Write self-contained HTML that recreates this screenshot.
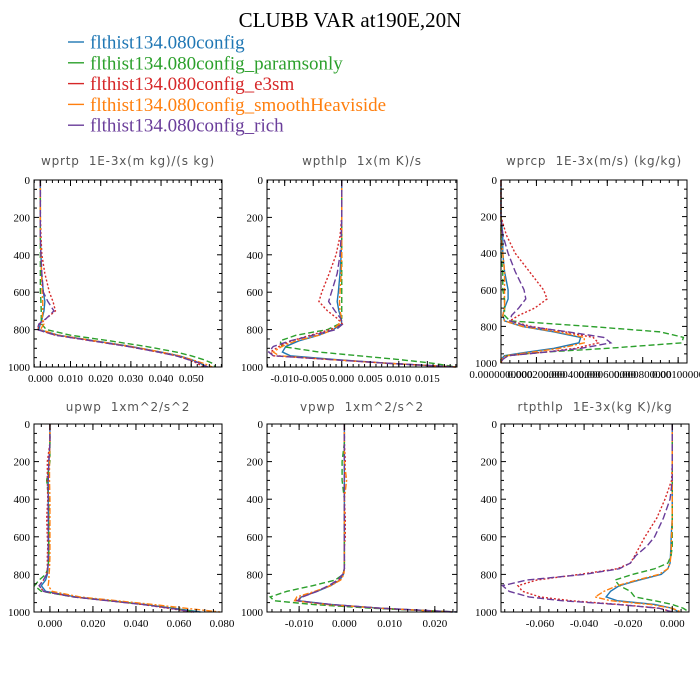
<!DOCTYPE html>
<html><head><meta charset="utf-8"><style>
html,body{margin:0;padding:0;background:#fff;}
svg{display:block;}
.tl{font-family:"Liberation Serif",serif;font-size:11px;fill:#000;}
.pt{font-family:"DejaVu Sans","Liberation Sans",sans-serif;font-size:12px;fill:#555;letter-spacing:0.8px;white-space:pre;}
</style></head><body>
<svg id="chart" width="700" height="700" viewBox="0 0 700 700" xmlns="http://www.w3.org/2000/svg">
<text x="350" y="27" text-anchor="middle" font-family="Liberation Serif,serif" font-size="21">CLUBB VAR at190E,20N</text>
<g id="legend"></g>
<g id="panels"></g>
</svg>
<script>
const levels=[0,100,200,300,400,500,600,650,700,740,770,800,830,860,890,920,940,960,980,1000];
const seriesNames=["flthist134.080config","flthist134.080config_paramsonly","flthist134.080config_e3sm","flthist134.080config_smoothHeaviside","flthist134.080config_rich"];
const wprtpBlue=[0,0,0,0,0.0002,0.0004,0.001,0.0015,0.0012,0.0006,0.0,-0.0005,0.006,0.018,0.030,0.040,0.046,0.050,0.053,0.055];
const wprtpGreen=[0,0,0,0,0,0,0,0.0002,0.0003,0.0003,0.0004,0.002,0.010,0.023,0.035,0.045,0.050,0.054,0.057,0.058];
const wprtpRed=[0,0,0,0.0002,0.0005,0.0015,0.003,0.0042,0.005,0.002,0.0,-0.001,0.005,0.017,0.029,0.039,0.045,0.049,0.052,0.054];
const wprtpOrange=[0,0,0,0,0.0002,0.0004,0.0006,0.0008,0.0008,0.0006,0.0012,0.0,0.006,0.018,0.030,0.040,0.046,0.050,0.054,0.057];
const wprtpPurple=[0,0,0,0,0.0002,0.0005,0.001,0.0025,0.0045,0.002,-0.0005,-0.001,0.005,0.017,0.029,0.039,0.045,0.049,0.053,0.0555];
const wpthlpBlue=[0,0,0,0,-0.0001,-0.0003,-0.0006,-0.0008,-0.0005,-0.0001,0,-0.0015,-0.004,-0.0075,-0.0098,-0.0104,-0.009,-0.001,0.008,0.020];
const wpthlpGreen=[0,0,0,0,0,0,0,0,0,0,-0.0005,-0.0025,-0.008,-0.0108,-0.0105,-0.004,0.003,0.010,0.016,0.020];
const wpthlpRed=[0,0,0,-0.0003,-0.001,-0.0022,-0.0035,-0.004,-0.0025,-0.0008,0.0001,-0.002,-0.0055,-0.0088,-0.011,-0.0125,-0.012,-0.002,0.008,0.020];
const wpthlpOrange=[0,0,0,0,0,-0.0001,-0.0003,-0.0004,-0.0003,0,-0.0005,-0.0015,-0.004,-0.008,-0.0105,-0.012,-0.011,-0.002,0.008,0.020];
const wpthlpPurple=[0,0,0,-0.0001,-0.0003,-0.0008,-0.0018,-0.0023,-0.0012,-0.0002,0.0002,-0.001,-0.005,-0.009,-0.012,-0.0128,-0.012,-0.002,0.008,0.020];
const wprcpBlue=[0,0,0,0.00001,0.00001,0.00002,0.00004,0.00004,0.00002,0.00001,0.00002,0.00012,0.0003,0.00045,0.00044,0.0003,0.00015,0.00002,0,0];
const wprcpGreen=[0,0,0,0,0,0.00001,0.00001,0.00002,0.00002,0.00002,0.00005,0.0005,0.0009,0.00103,0.00102,0.0006,0.00025,0.00003,0,0];
const wprcpRed=[0,0,0,0.00003,0.00008,0.00016,0.00024,0.00026,0.00019,0.0001,0.00005,0.00017,0.00036,0.00052,0.00055,0.00042,0.00025,0.00004,0.00001,0];
const wprcpOrange=[0,0,0,0,0.00001,0.00002,0.00002,0.00002,0.00002,0.00001,0.00002,0.00012,0.00032,0.00047,0.00047,0.00033,0.00018,0.00003,0,0];
const wprcpPurple=[0,0,0,0.00001,0.00004,0.00008,0.00013,0.00014,0.0001,0.00006,0.00005,0.00015,0.00038,0.00058,0.00062,0.00045,0.00026,0.00004,0.00001,0];
const upwpBlue=[0,0,-0.0005,-0.0008,-0.0008,-0.0007,-0.0006,-0.0006,-0.0006,-0.0007,-0.001,-0.0012,-0.002,-0.004,-0.002,0.012,0.028,0.044,0.057,0.07];
const upwpGreen=[0,0,0,-0.0015,-0.0005,-0.0005,-0.0005,-0.0005,-0.0005,-0.0007,-0.001,-0.002,-0.005,-0.0072,-0.004,0.011,0.028,0.044,0.057,0.068];
const upwpRed=[0,0,-0.0012,-0.0012,-0.001,-0.0015,-0.0012,-0.001,-0.0012,-0.0012,-0.0012,-0.0015,-0.003,-0.005,-0.003,0.011,0.027,0.043,0.055,0.066];
const upwpOrange=[0,0,-0.0002,-0.0002,0,0,0,0,0,-0.0001,-0.0002,-0.0004,-0.0005,-0.0008,0.001,0.014,0.031,0.048,0.063,0.079];
const upwpPurple=[0,0,-0.0005,-0.0008,-0.0008,-0.0008,-0.0008,-0.0008,-0.0008,-0.0009,-0.001,-0.0015,-0.003,-0.005,-0.003,0.011,0.027,0.043,0.056,0.067];
const vpwpBlue=[0,0,0,0,0,0,0,0,0,0,0,-0.0002,-0.001,-0.003,-0.006,-0.0095,-0.0103,-0.003,0.008,0.024];
const vpwpGreen=[0,0,-0.0005,-0.0005,0,0,0,0,0,0,0,-0.0003,-0.002,-0.007,-0.0127,-0.0164,-0.0155,-0.007,0.006,0.025];
const vpwpRed=[0,0,0.0002,0,0,0.0002,0.0002,0,0,0,0,-0.0003,-0.0012,-0.0032,-0.0062,-0.0095,-0.0107,-0.0035,0.008,0.024];
const vpwpOrange=[0,0,0,0.0005,0,0,0,0,0,0,0,-0.0001,-0.0008,-0.003,-0.0065,-0.0105,-0.011,-0.004,0.008,0.024];
const vpwpPurple=[0,0,0,0,0,0,0,0,0,0,0,-0.0004,-0.0015,-0.0035,-0.006,-0.0093,-0.0103,-0.003,0.008,0.025];
const rtpthlpBlue=[0,0,0,0,0,0,-0.0005,-0.0006,-0.0008,-0.001,-0.002,-0.005,-0.015,-0.024,-0.028,-0.030,-0.025,-0.008,0,0.003];
const rtpthlpGreen=[0,0,0,0,0,0,0,0,-0.0005,-0.002,-0.008,-0.018,-0.026,-0.024,-0.019,-0.017,-0.008,0,0.005,0.0076];
const rtpthlpRed=[0,0,0,-0.0003,-0.0033,-0.007,-0.0124,-0.0147,-0.017,-0.019,-0.025,-0.042,-0.0615,-0.070,-0.068,-0.060,-0.046,-0.024,-0.0056,0];
const rtpthlpOrange=[0,0,0,0,0,0,-0.0003,-0.0004,-0.0006,-0.001,-0.002,-0.006,-0.016,-0.025,-0.031,-0.035,-0.028,-0.010,0,0.004];
const rtpthlpPurple=[0,0,0,0,-0.001,-0.004,-0.008,-0.0115,-0.0165,-0.019,-0.024,-0.040,-0.066,-0.077,-0.074,-0.065,-0.050,-0.025,-0.006,0];
const yTicks=[0,200,400,600,800,1000];
const ticks1=["0.000","0.010","0.020","0.030","0.040","0.050"];
const ticks2=["-0.010","-0.005","0.000","0.005","0.010","0.015"];
const ticks3=["0.0000000000","0.000200000","0.000400000","0.000600000","0.000800000","0.00100000"];
const ticks4=["0.000","0.020","0.040","0.060","0.080"];
const ticks5=["-0.010","0.000","0.010","0.020"];
const ticks6=["-0.060","-0.040","-0.020","0.000"];

const colors=["#1f77b4","#2ca02c","#d62728","#ff7f0e","#6a3d9a"];
const dashes=["","6,3","2,2","6,2,2,2","7,3"];
const keys=["blue","green","red","orange","purple"];
const NS="http://www.w3.org/2000/svg";
function mk(tag,attrs,parent){const e=document.createElementNS(NS,tag);for(const k in attrs)e.setAttribute(k,attrs[k]);parent.appendChild(e);return e;}

const panels=[
 {id:"wprtp",title:"wprtp  1E-3x(m kg)/(s kg)",L:34,R:222,T:180,B:367,xmin:-0.0021,xmax:0.0602,ticks:ticks1,minor:0.002,data:[wprtpBlue,wprtpGreen,wprtpRed,wprtpOrange,wprtpPurple],ty:165},
 {id:"wpthlp",title:"wpthlp  1x(m K)/s",L:267,R:457,T:180,B:367,xmin:-0.0131,xmax:0.0202,ticks:ticks2,minor:0.001,data:[wpthlpBlue,wpthlpGreen,wpthlpRed,wpthlpOrange,wpthlpPurple],ty:165},
 {id:"wprcp",title:"wprcp  1E-3x(m/s) (kg/kg)",L:501,R:687,T:180,B:363,xmin:0,xmax:0.00105,ticks:ticks3,minor:0.00005,data:[wprcpBlue,wprcpGreen,wprcpRed,wprcpOrange,wprcpPurple],ty:165},
 {id:"upwp",title:"upwp  1xm^2/s^2",L:34,R:222,T:424,B:612,xmin:-0.0074,xmax:0.080,ticks:ticks4,minor:0.004,data:[upwpBlue,upwpGreen,upwpRed,upwpOrange,upwpPurple],ty:411},
 {id:"vpwp",title:"vpwp  1xm^2/s^2",L:267,R:457,T:424,B:612,xmin:-0.0171,xmax:0.0249,ticks:ticks5,minor:0.002,data:[vpwpBlue,vpwpGreen,vpwpRed,vpwpOrange,vpwpPurple],ty:411},
 {id:"rtpthlp",title:"rtpthlp  1E-3x(kg K)/kg",L:501,R:689,T:424,B:612,xmin:-0.0777,xmax:0.0076,ticks:ticks6,minor:0.004,data:[rtpthlpBlue,rtpthlpGreen,rtpthlpRed,rtpthlpOrange,rtpthlpPurple],ty:411}
];

const root=document.getElementById("panels");
panels.forEach(p=>{
  const g=mk("g",{},root);
  
  
  const xs=v=>p.L+(v-p.xmin)/(p.xmax-p.xmin)*(p.R-p.L);
  const ys=v=>p.T+v/1000*(p.B-p.T);
  const t=mk("text",{x:(p.L+p.R)/2,y:p.ty,"text-anchor":"middle",class:"pt"},g);
  t.textContent=p.title;
  
  
  p.data.forEach((arr,i)=>{
    const d=arr.map((v,j)=>(j?"L":"M")+xs(v).toFixed(2)+","+ys(levels[j]).toFixed(2)).join("");
    const path=mk("path",{d:d,fill:"none",stroke:colors[i],"stroke-width":1.4,"stroke-dasharray":dashes[i]},g);
    
    
  });
  const fr=mk("rect",{x:p.L,y:p.T,width:p.R-p.L,height:p.B-p.T,fill:"none",stroke:"#000","stroke-width":1},g);
  
  
  for(let v=0;v<=1000;v+=50){
    const y=ys(v),len=(v%200===0)?5:3;
    mk("line",{x1:p.L,x2:p.L+len,y1:y,y2:y,stroke:"#000","stroke-width":1},g);
    mk("line",{x1:p.R,x2:p.R-len,y1:y,y2:y,stroke:"#000","stroke-width":1},g);
  }
  yTicks.forEach(v=>{
    const tl=mk("text",{x:p.L-4,y:ys(v)+4,"text-anchor":"end",class:"tl"},g);
    tl.textContent=String(v);
    
    
  });
  const start=Math.ceil(p.xmin/p.minor-1e-6);
  for(let k=start;k*p.minor<=p.xmax+1e-12;k++){
    const x=xs(k*p.minor);
    mk("line",{x1:x,x2:x,y1:p.B,y2:p.B-3,stroke:"#000","stroke-width":1},g);
    mk("line",{x1:x,x2:x,y1:p.T,y2:p.T+3,stroke:"#000","stroke-width":1},g);
  }
  p.ticks.forEach(s=>{
    const v=parseFloat(s),x=xs(v);
    mk("line",{x1:x,x2:x,y1:p.B,y2:p.B-6,stroke:"#000","stroke-width":1},g);
    mk("line",{x1:x,x2:x,y1:p.T,y2:p.T+6,stroke:"#000","stroke-width":1},g);
    const tl=mk("text",{x:x,y:p.B+15,"text-anchor":"middle",class:"tl"},g);
    tl.textContent=s;
    if(p.id==="wprcp") tl.setAttribute("font-size","10.5");
    
    
  });
});
const lg=document.getElementById("legend");
seriesNames.forEach((n,i)=>{
  const y=42+i*20.8;
  const ln=mk("line",{x1:68,x2:84,y1:y,y2:y,stroke:colors[i],"stroke-width":1.4},lg);
  
  
  const tx=mk("text",{x:90,y:y+6.5,fill:colors[i],"font-family":"Liberation Serif,serif","font-size":"19"},lg);
  tx.textContent=n;
  
  
});
</script>
</body></html>
